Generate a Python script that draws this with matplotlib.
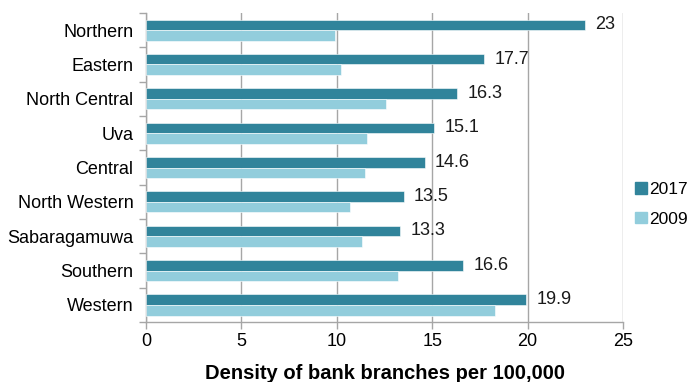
import numpy as np
import matplotlib
matplotlib.use('Agg')
import matplotlib.pyplot as plt
from matplotlib.patches import Patch

plt.rcParams['font.family'] = ['Liberation Sans', 'DejaVu Sans']

provinces = ['Northern', 'Eastern', 'North Central', 'Uva', 'Central',
             'North Western', 'Sabaragamuwa', 'Southern', 'Western']
density_2017 = [23, 17.7, 16.3, 15.1, 14.6, 13.5, 13.3, 16.6, 19.9]
density_2009 = [9.9, 10.2, 12.6, 11.6, 11.5, 10.7, 11.3, 13.2, 18.3]

dark = '#31849B'
light = '#92CDDC'
grey = '#A6A6A6'

fig = plt.figure(figsize=(6.9, 3.82), dpi=100)
ax = fig.add_axes([0.2116, 0.157, 0.6913, 0.809])

y = np.arange(len(provinces))
h = 0.31
ax.barh(y - h / 2, density_2017, height=h, color=dark, edgecolor='white', linewidth=0.4, zorder=3)
ax.barh(y + h / 2, density_2009, height=h, color=light, edgecolor='white', linewidth=0.4, zorder=3)

for yi, v in zip(y, density_2017):
    ax.text(v + 0.55, yi - h / 2, '%g' % v, va='center', ha='left', fontsize=13, color='#1a1a1a')

ax.set_xlim(0, 25)
ax.set_ylim(len(provinces) - 0.5, -0.5)
ax.set_xticks(range(0, 26, 5))
ax.xaxis.grid(True, color=grey, linewidth=1, zorder=0)

# category labels centred, tick marks on the boundaries
ax.set_yticks(y)
ax.set_yticklabels(provinces, fontsize=13)
ax.set_yticks(np.arange(-0.5, len(provinces)), minor=True)
ax.tick_params(axis='y', which='major', length=0, pad=9)
ax.tick_params(axis='y', which='minor', length=5, color=grey, width=1)
ax.tick_params(axis='x', length=5, color=grey, width=1, labelsize=13, pad=3)

for s in ['top', 'right']:
    ax.spines[s].set_visible(False)
for s in ['left', 'bottom']:
    ax.spines[s].set_color(grey)
    ax.spines[s].set_linewidth(1)

ax.set_xlabel('Density of bank branches per 100,000', fontsize=14.5, fontweight='bold', labelpad=10)

handles = [Patch(color=dark, label='2017'), Patch(color=light, label='2009')]
fig.legend(handles=handles, loc='center left', bbox_to_anchor=(0.921, 0.465), frameon=False,
           fontsize=12.5, handlelength=0.65, handleheight=0.65, handletextpad=0.15,
           labelspacing=0.85, borderpad=0, borderaxespad=0)

fig.savefig('out.png', dpi=100)
